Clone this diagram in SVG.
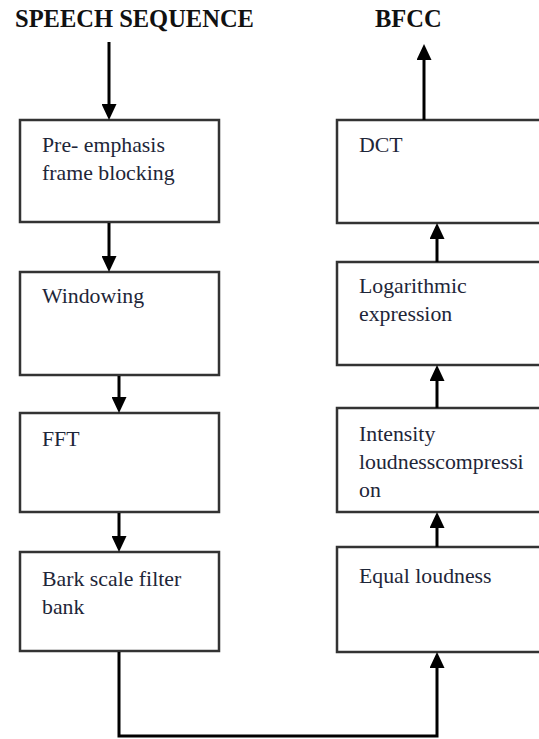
<svg xmlns="http://www.w3.org/2000/svg" width="539" height="739" viewBox="0 0 539 739">
<defs>
<marker id="ah" markerUnits="userSpaceOnUse" markerWidth="16" markerHeight="15" viewBox="0 0 16 15" refX="12" refY="7.5" orient="auto">
<path d="M0,0 L16,7.5 L0,15 z" fill="#000"/>
</marker>
<style>
.box{fill:#fff;stroke:#333;stroke-width:2.5}
.lbl{font-size:21.8px;fill:#1e2638}
.ttl{font-size:24.5px;font-weight:bold;fill:#111}
.con{fill:none;stroke:#000;stroke-width:3}
</style>
</defs>
<rect width="539" height="739" fill="#fff"/>
<g font-family="Liberation Serif, Tinos, Times New Roman, DejaVu Serif, serif">
<text class="ttl" x="15" y="27">SPEECH SEQUENCE</text>
<text class="ttl" x="375" y="27">BFCC</text>
<g id="n-preemph">
<rect class="box" x="20" y="120" width="199" height="102"/>
<text class="lbl" x="42" y="152">Pre- emphasis</text>
<text class="lbl" x="42" y="180">frame blocking</text>
</g>
<g id="n-windowing">
<rect class="box" x="20" y="272" width="199" height="103"/>
<text class="lbl" x="42" y="303">Windowing</text>
</g>
<g id="n-fft">
<rect class="box" x="20" y="413" width="199" height="99"/>
<text class="lbl" x="42" y="446">FFT</text>
</g>
<g id="n-bark">
<rect class="box" x="20" y="552" width="199" height="99"/>
<text class="lbl" x="42" y="586">Bark scale filter</text>
<text class="lbl" x="42" y="614">bank</text>
</g>
<g id="n-dct">
<rect class="box" x="337" y="120" width="210" height="103"/>
<text class="lbl" x="359" y="152">DCT</text>
</g>
<g id="n-log">
<rect class="box" x="337" y="262" width="210" height="103"/>
<text class="lbl" x="359" y="293">Logarithmic</text>
<text class="lbl" x="359" y="321">expression</text>
</g>
<g id="n-intensity">
<rect class="box" x="337" y="408" width="210" height="104"/>
<text class="lbl" x="359" y="441">Intensity</text>
<text class="lbl" x="359" y="469">loudnesscompressi</text>
<text class="lbl" x="359" y="497">on</text>
</g>
<g id="n-equal">
<rect class="box" x="337" y="547" width="210" height="105"/>
<text class="lbl" x="359" y="583">Equal loudness</text>
</g>
</g>
<g id="connectors">
<line class="con" x1="109" y1="42" x2="109" y2="116" marker-end="url(#ah)"/>
<line class="con" x1="109" y1="223" x2="109" y2="268" marker-end="url(#ah)"/>
<line class="con" x1="119" y1="376" x2="119" y2="409" marker-end="url(#ah)"/>
<line class="con" x1="119" y1="513" x2="119" y2="548" marker-end="url(#ah)"/>
<path class="con" d="M119,652 V736 H437 V656" marker-end="url(#ah)"/>
<line class="con" x1="437" y1="547" x2="437" y2="516" marker-end="url(#ah)"/>
<line class="con" x1="437" y1="408" x2="437" y2="369" marker-end="url(#ah)"/>
<line class="con" x1="437" y1="262" x2="437" y2="227" marker-end="url(#ah)"/>
<line class="con" x1="424" y1="120" x2="424" y2="48" marker-end="url(#ah)"/>
</g>
</svg>
